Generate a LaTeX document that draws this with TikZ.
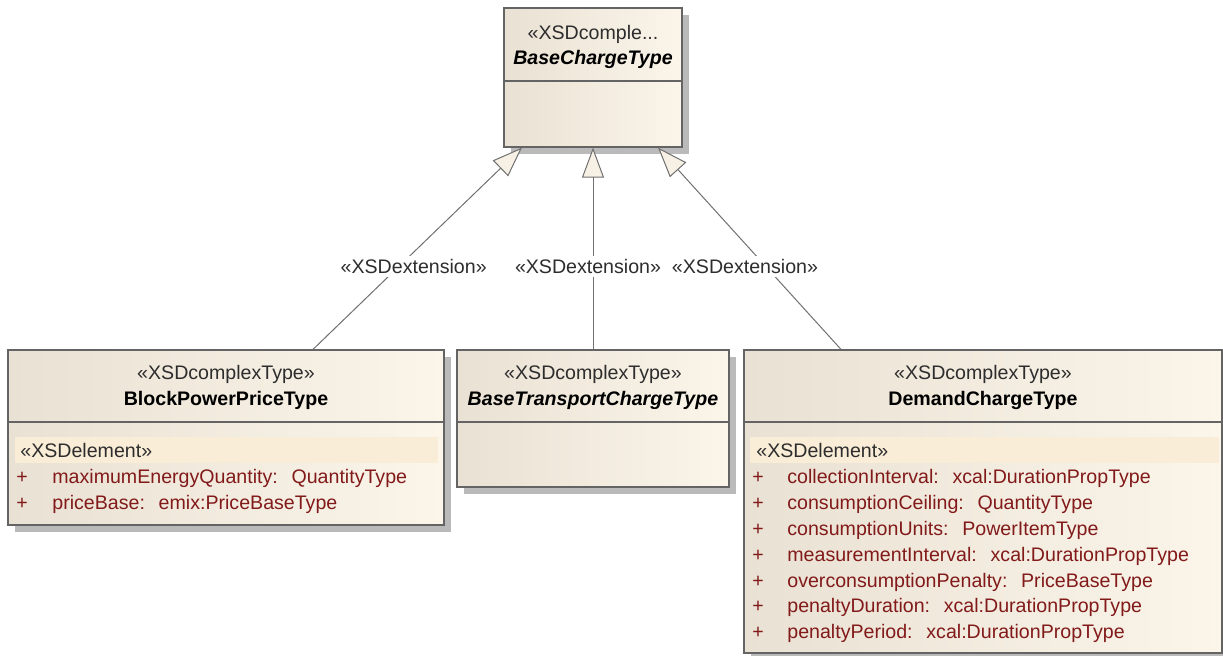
\documentclass[tikz,border=0pt]{standalone}
\usepackage{fontspec}
\setmainfont{Liberation Sans}
\usetikzlibrary{arrows.meta,shadows}

\definecolor{boxL}{RGB}{233,225,211}
\definecolor{boxR}{RGB}{251,245,234}
\definecolor{edgec}{RGB}{100,100,100}
\definecolor{bandc}{RGB}{250,237,215}
\definecolor{attrc}{RGB}{130,26,26}
\definecolor{wirec}{RGB}{112,112,112}
\definecolor{stereoc}{RGB}{45,45,45}
\definecolor{tipc}{RGB}{247,240,228}

\newcommand{\attrgap}{\hspace{0.7em}}

\begin{document}
\begin{tikzpicture}[x=0.5pt,y=-0.5pt,
  classbox/.style={rectangle, draw=edgec, line width=0.6pt, inner sep=0pt,
    left color=boxL, right color=boxR,
    drop shadow={shadow xshift=3.5pt, shadow yshift=-3.5pt, fill=black!27, opacity=1}},
  txt/.style={inner sep=0pt, anchor=base, font=\fontsize{9.8}{11}\selectfont},
  stereo/.style={txt, text=stereoc},
  cname/.style={txt, text=black, font=\fontsize{9.8}{11}\selectfont\bfseries},
  aname/.style={cname, font=\fontsize{9.8}{11}\selectfont\bfseries\itshape},
  elemtag/.style={txt, anchor=base west, text=stereoc},
  plusmark/.style={txt, text=attrc},
  attrrow/.style={txt, anchor=base west, text=attrc},
  divider/.style={draw=edgec, line width=0.6pt},
  ext/.style={draw=wirec, line width=0.5pt,
    -{Triangle[width=11pt,length=15pt,fill=tipc]}},
  extlabel/.style={txt, anchor=center, fill=white, inner sep=1.5pt, text=stereoc}
]
\useasboundingbox (0,0) rectangle (1223,656);

% ---- class boxes ----
\node[classbox, minimum width=89pt,  minimum height=69.5pt]  (base) at (593,77.5) {};
\node[classbox, minimum width=218pt, minimum height=87.5pt]  (bp)   at (226,437.5) {};
\node[classbox, minimum width=136pt, minimum height=68.5pt]  (bt)   at (593,418.5) {};
\node[classbox, minimum width=239pt, minimum height=151.5pt] (dc)   at (983,501.5) {};

% compartment separators
\draw[divider] (base.west |- 0,81) -- (base.east |- 0,81);
\draw[divider] (bp.west |- 0,422) -- (bp.east |- 0,422);
\draw[divider] (bt.west |- 0,422) -- (bt.east |- 0,422);
\draw[divider] (dc.west |- 0,422) -- (dc.east |- 0,422);

% stereotype bands of the attribute compartments
\fill[bandc] (15,437) rectangle (438,463);
\fill[bandc] (750,437) rectangle (1219,463);

% ---- headers ----
\node[stereo] (baseS) at (593,40) {«XSDcomple...};
\node[aname]  (baseN) at (593,65) {BaseChargeType};

\node[stereo] (bpS) at (226,380) {«XSDcomplexType»};
\node[cname]  (bpN) at (226,406) {BlockPowerPriceType};

\node[stereo] (btS) at (593,380) {«XSDcomplexType»};
\node[aname]  (btN) at (593,406) {BaseTransportChargeType};

\node[stereo] (dcS) at (983,380) {«XSDcomplexType»};
\node[cname]  (dcN) at (983,406) {DemandChargeType};

% ---- attributes ----
\node[elemtag] (bpE) at (20,458) {«XSDelement»};
\foreach \t [count=\i] in {%
  maximumEnergyQuantity:\attrgap QuantityType,
  priceBase:\attrgap emix:PriceBaseType}{
  \node[plusmark] (bpP\i) at (22,{484+(\i-1)*25.8}) {+};
  \node[attrrow]  (bpA\i) at (52,{484+(\i-1)*25.8}) {\t};
}

\node[elemtag] (dcE) at (756,458) {«XSDelement»};
\foreach \t [count=\i] in {%
  collectionInterval:\attrgap xcal:DurationPropType,
  consumptionCeiling:\attrgap QuantityType,
  consumptionUnits:\attrgap PowerItemType,
  measurementInterval:\attrgap xcal:DurationPropType,
  overconsumptionPenalty:\attrgap PriceBaseType,
  penaltyDuration:\attrgap xcal:DurationPropType,
  penaltyPeriod:\attrgap xcal:DurationPropType}{
  \node[plusmark] (dcP\i) at (758,{484+(\i-1)*25.8}) {+};
  \node[attrrow]  (dcA\i) at (787,{484+(\i-1)*25.8}) {\t};
}

% ---- generalisations ----
\draw[ext] ([xshift=43.5pt]bp.north) -- ([xshift=-35.5pt]base.south)
  node[extlabel, pos=0.41, xshift=7.5pt] (l1) {«XSDextension»};
\draw[ext] (bt.north) -- (base.south)
  node[extlabel, pos=0.41, xshift=-2.5pt] (l2) {«XSDextension»};
\draw[ext] ([xshift=-71pt]dc.north) -- ([xshift=32.5pt]base.south)
  node[extlabel, pos=0.41, xshift=-10.5pt] (l3) {«XSDextension»};
\end{tikzpicture}
\end{document}
